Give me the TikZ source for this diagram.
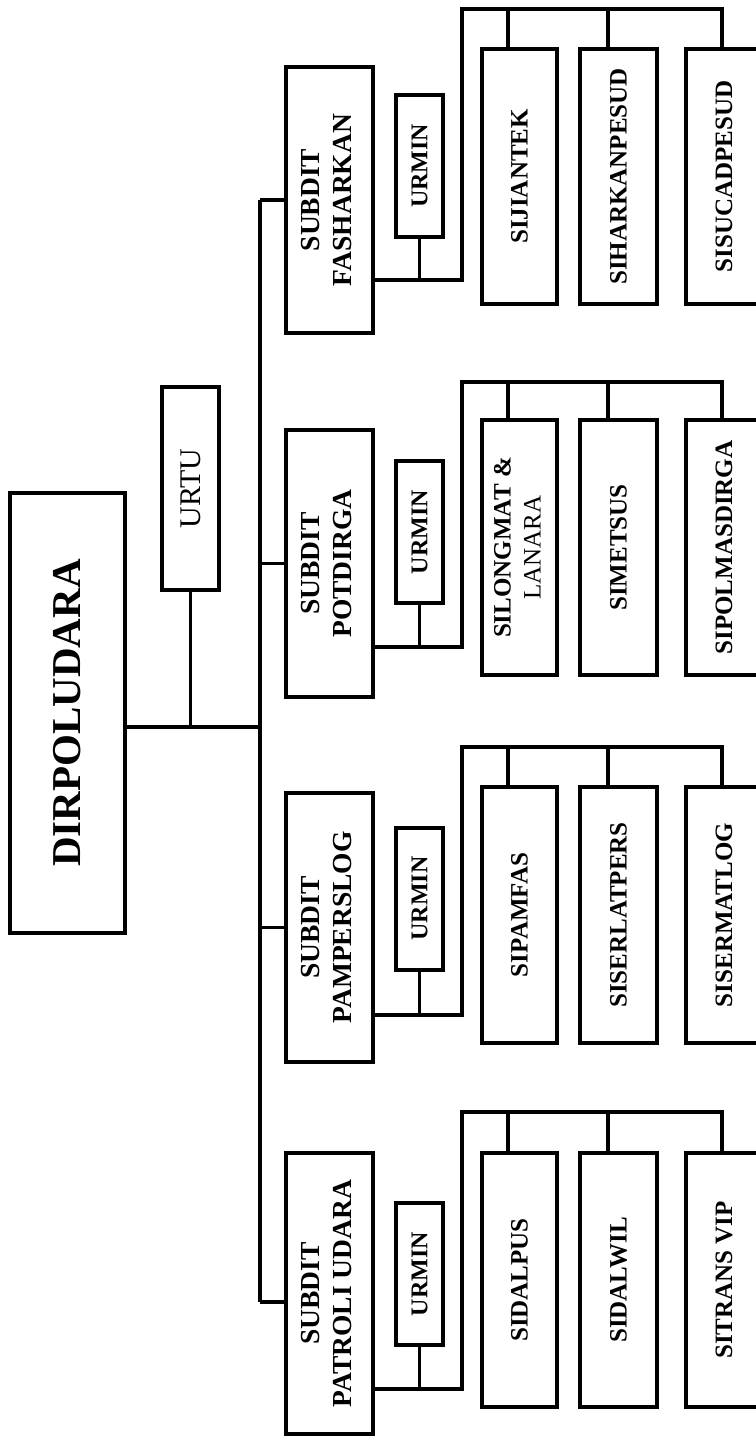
\documentclass[tikz,border=0pt]{standalone}
\usepackage{fontspec}
\setmainfont{Liberation Serif}
\usepackage{graphicx}
\newcommand{\rt}[1]{\rotatebox{90}{#1}}
\newcommand{\subtxt}[2]{\rotatebox{90}{\fontsize{27.5}{32}\selectfont\bfseries\begin{tabular}{@{}c@{}}#1\\#2\end{tabular}}}
\newcommand{\chtxt}[1]{\rotatebox{90}{\fontsize{25}{30}\selectfont\bfseries #1}}
\newcommand{\urtxt}{\rotatebox{90}{\fontsize{24}{28}\selectfont\bfseries URMIN}}
\tikzset{
  bx/.style={draw, line width=4pt, inner sep=0pt, align=center},
  sub/.style={bx, minimum width=87pt},
  urm/.style={bx, minimum width=47pt, minimum height=142pt},
  chA/.style={bx, minimum width=75pt, minimum height=254pt},
  chB/.style={bx, minimum width=77pt, minimum height=254pt},
  chC/.style={bx, minimum width=76pt, minimum height=254pt},
  ln/.style={line width=3.5pt},
}
\begin{document}
\begin{tikzpicture}[x=1pt,y=-1pt]
\useasboundingbox (0,0) rectangle (755,1437);
\fill[white] (0,0) rectangle (755,1437);

% top level
\node[bx, minimum width=115pt, minimum height=440pt] (dir) at (67.5,713)
  {\rt{\fontsize{41}{48}\selectfont\bfseries DIRPOLUDARA}};
\node[bx, minimum width=57pt, minimum height=203pt] (urtu) at (190.5,488.5)
  {\rt{\fontsize{30}{34}\selectfont URTU}};

% subdits
\node[sub, minimum height=266pt] (fas) at (329.5,200) {\subtxt{SUBDIT}{FASHARKAN}};
\node[sub, minimum height=267pt] (pot) at (329.5,563.5) {\subtxt{SUBDIT}{POTDIRGA}};
\node[sub, minimum height=269pt] (pam) at (329.5,927.5) {\subtxt{SUBDIT}{PAMPERSLOG}};
\node[sub, minimum height=281pt] (pat) at (329.5,1293.5) {\subtxt{SUBDIT}{PATROLI UDARA}};

% urmin
\node[urm] (fasU) at (419.5,166) {\urtxt};
\node[urm] (potU) at (419.5,532) {\urtxt};
\node[urm] (pamU) at (419.5,898.5) {\urtxt};
\node[urm] (patU) at (419.5,1274) {\urtxt};

% children
\node[chA] (fas1) at (519.5,176.5) {\chtxt{SIJIANTEK}};
\node[chB] (fas2) at (618.5,176.5) {\chtxt{SIHARKANPESUD}};
\node[chC] (fas3) at (724,176.5) {\chtxt{SISUCADPESUD}};

\node[chA, minimum height=255pt] (pot1) at (519.5,547.5)
  {\rotatebox{90}{\fontsize{25}{30}\selectfont\begin{tabular}{@{}c@{}}\bfseries SILONGMAT \&\\LANARA\end{tabular}}};
\node[chB, minimum height=255pt] (pot2) at (618.5,547.5) {\chtxt{SIMETSUS}};
\node[chC, minimum height=255pt] (pot3) at (724,547.5) {\chtxt{SIPOLMASDIRGA}};

\node[chA, minimum height=256pt] (pam1) at (519.5,915) {\chtxt{SIPAMFAS}};
\node[chB, minimum height=256pt] (pam2) at (618.5,915) {\chtxt{SISERLATPERS}};
\node[chC, minimum height=256pt] (pam3) at (724,915) {\chtxt{SISERMATLOG}};

\node[chA] (pat1) at (519.5,1280) {\chtxt{SIDALPUS}};
\node[chB] (pat2) at (618.5,1280) {\chtxt{SIDALWIL}};
\node[chC] (pat3) at (724,1280) {\chtxt{SITRANS VIP}};

% trunk
\coordinate (trTop) at (260,200);
\coordinate (trBot) at (260,1302);
\coordinate (dirJ) at (260,727);
\draw[ln] (dirJ -| dir.east) -- (dirJ);
\draw[ln] (urtu.south) -- (urtu.south |- dirJ);
\draw[ln] (trTop) -- (trBot);
\draw[ln] (trTop) -- (trTop -| fas.west);
\draw[ln] (pot.west -| trTop) -- (pot.west);
\draw[ln] (pam.west -| trTop) -- (pam.west);
\draw[ln] (trBot) -- (trBot -| pat.west);

% drop x positions
\coordinate (xA) at (508,0);
\coordinate (xB) at (608,0);
\coordinate (xC) at (722,0);

% group buses
\foreach \g/\ly/\by in {fas/280/9, pot/647/382, pam/1015/747, pat/1389/1112}{
  \coordinate (\g L) at (462,\ly);
  \coordinate (\g Bus) at (462,\by);
  \draw[ln] (\g.east |- \g L) -- (\g L) -- (\g Bus) -- (\g Bus -| xC) -- (\g 3.north -| xC);
  \draw[ln] (\g Bus -| xA) -- (\g 1.north -| xA);
  \draw[ln] (\g Bus -| xB) -- (\g 2.north -| xB);
  \draw[ln] (\g U.south) -- (\g U.south |- \g L);
}
\end{tikzpicture}
\end{document}
